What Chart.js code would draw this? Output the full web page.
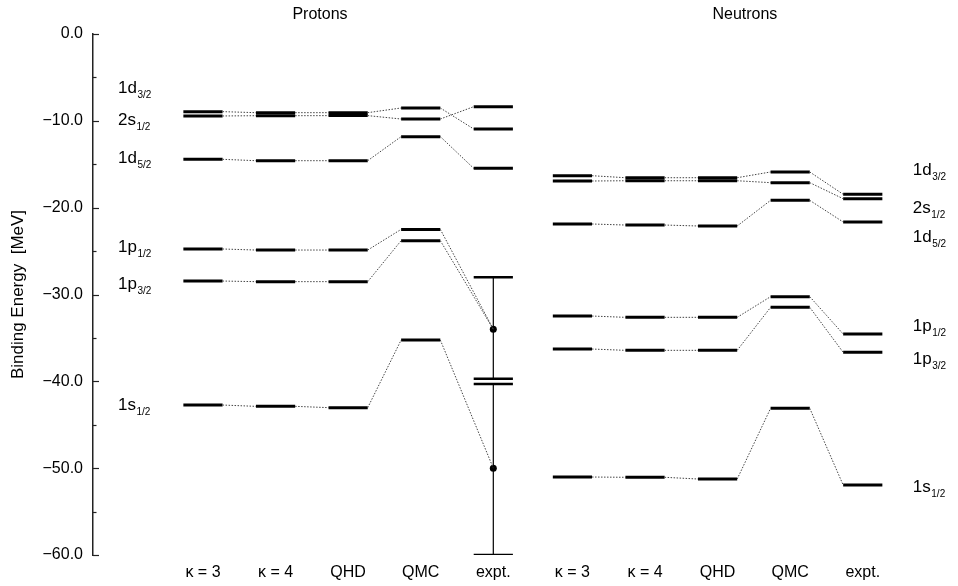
<!DOCTYPE html>
<html>
<head>
<meta charset="utf-8">
<script src="https://cdn.jsdelivr.net/npm/chart.js@4.4.1/dist/chart.umd.min.js"></script>
<style>
    html, body { margin: 0; padding: 0; background: #fff; }
    #wrap { width: 958px; height: 586px; }
</style>
</head>
<body>
<div id="wrap"><canvas id="levelChart" width="958" height="586"></canvas></div>
<script>
// ========== data ==========
const categories = ['κ = 3', 'κ = 4', 'QHD', 'QMC', 'expt.'];
const groupTitles = ['Protons', 'Neutrons'];
const levelMain = ['1d', '2s', '1d', '1p', '1p', '1s'];
const levelSub = ['3/2', '1/2', '5/2', '1/2', '3/2', '1/2'];

// proton levels (MeV), one value per category
const proton1d32 = [-8.94, -9.06, -9.06, -8.52, -10.94];
const proton2s12 = [-9.44, -9.41, -9.40, -9.79, -8.37];
const proton1d52 = [-14.43, -14.59, -14.59, -11.82, -15.47];
const proton1p12 = [-24.76, -24.88, -24.88, -22.50, -34.0];
const proton1p32 = [-28.45, -28.52, -28.52, -23.80, -34.0];
const proton1s12 = [-42.73, -42.88, -43.03, -35.24, -50.0];
// expt. 1p / 1s protons: dot with error bar instead of a level
const protonExptIsPoint = [false, false, false, true, true, true];
const exptErrCenter = [-34.0, -50.0];
const exptErrTop = [-28.0, -40.3];
const exptErrBottom = [-39.7, -60.0];

// neutron levels (MeV)
const neutron1d32 = [-16.32, -16.55, -16.55, -15.89, -18.46];
const neutron2s12 = [-16.93, -16.90, -16.90, -17.12, -18.97];
const neutron1d52 = [-21.88, -22.00, -22.11, -19.16, -21.65];
const neutron1p12 = [-32.48, -32.63, -32.63, -30.25, -34.55];
const neutron1p32 = [-36.28, -36.43, -36.43, -31.48, -36.66];
const neutron1s12 = [-51.02, -51.05, -51.25, -43.11, -51.94];

const protonLevels = [proton1d32, proton2s12, proton1d52, proton1p12, proton1p32, proton1s12];
const neutronLevels = [neutron1d32, neutron2s12, neutron1d52, neutron1p12, neutron1p32, neutron1s12];

// y axis
const yMin = -60;
const yMax = 0;
const yStep = 5;

// ========== layout ==========
const FONT = "'Liberation Sans', Arial, Helvetica, sans-serif";
const HALF_W = 0.27;          // half width of a level bar (category units)
const NEUTRON_SHIFT = 5.09;   // x of the first neutron category
const X_MIN = -1.515;
const X_MAX = 10.347;
const TITLE_X = [1.612, 7.466];
const PROTON_LABEL_X = -1.17;
const NEUTRON_LABEL_X = 9.78;
const protonLabelY = [-6.76, -10.48, -14.89, -25.07, -29.37, -43.3];
const neutronLabelY = [-16.24, -20.65, -23.92, -34.17, -38.0, -52.7];

const tickPositions = categories.map((c, i) => i).concat(categories.map((c, i) => i + NEUTRON_SHIFT));
const tickLabels = categories.concat(categories);

// ========== datasets ==========
function levelDataset(values, shift, lastIsPoint) {
    const pts = [];
    values.forEach((v, i) => {
        const x = shift + i;
        if (lastIsPoint && i === values.length - 1) {
            pts.push({ x: x, y: v });
        } else {
            pts.push({ x: x - HALF_W, y: v });
            pts.push({ x: x + HALF_W, y: v });
        }
    });
    const isBar = c => c.p0DataIndex % 2 === 0;
    return {
        type: 'line',
        data: pts,
        pointRadius: 0,
        borderColor: '#000',
        borderWidth: 3,
        tension: 0,
        borderCapStyle: 'butt',
        segment: {
            borderWidth: c => isBar(c) ? 3 : 1,
            borderColor: c => isBar(c) ? '#000' : '#444',
            borderDash: c => isBar(c) ? [] : [1.5, 1.5]
        }
    };
}

function errorBarDataset(i) {
    const x = categories.length - 1;
    const top = exptErrTop[i];
    const bottom = exptErrBottom[i];
    return {
        type: 'line',
        data: [
            { x: x - HALF_W, y: top }, { x: x + HALF_W, y: top }, { x: x, y: top },
            { x: x, y: bottom }, { x: x - HALF_W, y: bottom }, { x: x + HALF_W, y: bottom }
        ],
        pointRadius: 0,
        borderColor: '#000',
        borderJoinStyle: 'bevel',
        borderCapStyle: 'butt',
        tension: 0,
        borderWidth: 2.5,
        segment: {
            borderWidth: c => c.p0DataIndex === 2 ? 1.2 : 2.5
        }
    };
}

function buildDatasets() {
    const ds = [];
    protonLevels.forEach((vals, i) => ds.push(levelDataset(vals, 0, protonExptIsPoint[i])));
    neutronLevels.forEach(vals => ds.push(levelDataset(vals, NEUTRON_SHIFT, false)));
    exptErrCenter.forEach((c, i) => ds.push(errorBarDataset(i)));
    ds.push({
        type: 'scatter',
        data: exptErrCenter.map(v => ({ x: categories.length - 1, y: v })),
        pointRadius: 3.5,
        backgroundColor: '#000',
        borderWidth: 0
    });
    return ds;
}

// ========== ticks, titles and level labels ==========
function drawLevelLabel(ctx, px, py, main, sub) {
    ctx.font = `17px ${FONT}`;
    ctx.fillText(main, px, py);
    const w = ctx.measureText(main).width;
    ctx.font = `10px ${FONT}`;
    ctx.fillText(sub, px + w + 0.5, py + 5);
}

const annotationPlugin = {
    id: 'levelAnnotations',
    afterDraw(chart) {
        const { ctx, chartArea, scales: { x, y } } = chart;
        ctx.save();
        ctx.strokeStyle = '#222';
        ctx.lineWidth = 1.2;
        y.ticks.forEach(t => {
            const py = Math.round(y.getPixelForValue(t.value)) + 0.5;
            const len = t.value % 10 === 0 ? 6 : 3.5;
            ctx.beginPath();
            ctx.moveTo(chartArea.left, py);
            ctx.lineTo(chartArea.left + len, py);
            ctx.stroke();
        });

        ctx.fillStyle = '#000';
        ctx.textAlign = 'center';
        ctx.textBaseline = 'alphabetic';
        ctx.font = `16px ${FONT}`;
        groupTitles.forEach((t, i) => ctx.fillText(t, x.getPixelForValue(TITLE_X[i]), chartArea.top - 15.5));

        ctx.textAlign = 'left';
        levelMain.forEach((m, i) => {
            drawLevelLabel(ctx, x.getPixelForValue(PROTON_LABEL_X), y.getPixelForValue(protonLabelY[i]), m, levelSub[i]);
            drawLevelLabel(ctx, x.getPixelForValue(NEUTRON_LABEL_X), y.getPixelForValue(neutronLabelY[i]), m, levelSub[i]);
        });
        ctx.restore();
    }
};

// ========== chart ==========
function initLevelChart() {
    const canvas = document.getElementById('levelChart');
    if (!canvas) return;

    new Chart(canvas.getContext('2d'), {
        type: 'line',
        data: { datasets: buildDatasets() },
        options: {
            responsive: false,
            animation: false,
            layout: { padding: { top: 34, left: 0, right: 0, bottom: 0 } },
            plugins: { legend: { display: false }, tooltip: { enabled: false } },
            scales: {
                x: {
                    type: 'linear',
                    min: X_MIN,
                    max: X_MAX,
                    grid: { display: false, drawTicks: false },
                    border: { display: false },
                    afterBuildTicks: s => { s.ticks = tickPositions.map(v => ({ value: v })); },
                    afterFit: s => { s.height = 31; },
                    ticks: {
                        autoSkip: false,
                        maxRotation: 0,
                        padding: 8,
                        color: '#000',
                        font: { family: FONT, size: 16 },
                        callback: (v, i) => tickLabels[i]
                    }
                },
                y: {
                    min: yMin,
                    max: yMax,
                    afterFit: s => { s.width = 93; },
                    grid: { display: false, drawTicks: false },
                    border: { display: true, color: '#222', width: 1.5 },
                    ticks: {
                        stepSize: yStep,
                        autoSkip: false,
                        padding: 10,
                        color: '#000',
                        font: { family: FONT, size: 16 },
                        callback: v => v % 10 === 0 ? (v < 0 ? '\u2212' : '') + Math.abs(v).toFixed(1) : ''
                    },
                    title: {
                        display: true,
                        text: 'Binding Energy  [MeV]',
                        color: '#000',
                        font: { family: FONT, size: 17 },
                        padding: { top: 8, bottom: 0 }
                    }
                }
            }
        },
        plugins: [annotationPlugin]
    });
}

initLevelChart();
</script>
</body>
</html>
